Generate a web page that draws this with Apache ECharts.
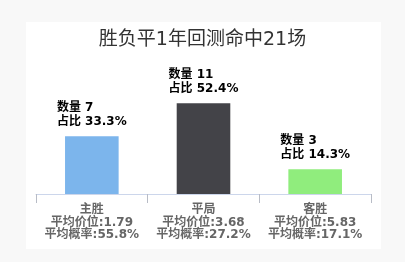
<!DOCTYPE html>
<html>
<head>
<meta charset="utf-8">
<script src="https://cdn.jsdelivr.net/npm/echarts@6/dist/echarts.min.js"></script>
<style>
  html, body { margin: 0; padding: 0; background: #f8f8f8; }
  #chart { width: 405px; height: 262px; }
</style>
</head>
<body>
<div id="chart"></div>
<script>
// 胜负平 outcome summary
const titleText = '胜负平1年回测命中21场';
const categories = ['主胜', '平局', '客胜'];
const counts = [7, 11, 3];
const shares = ['33.3%', '52.4%', '14.3%'];
const avgOdds = ['1.79', '3.68', '5.83'];
const avgProb = ['55.8%', '27.2%', '17.1%'];
const barColors = ['#7cb5ec', '#434348', '#90ed7d'];

// Latin glyphs from DejaVu Sans, CJK glyphs fall back to Noto Sans CJK
const FONT = '"DejaVu Sans", "Noto Sans CJK SC", sans-serif';

const chart = echarts.init(document.getElementById('chart'), null, { renderer: 'canvas' });

chart.setOption({
  backgroundColor: '#f8f8f8',
  animation: false,
  graphic: [{
    type: 'rect',
    z: -10,
    shape: { x: 26, y: 22, width: 355, height: 227 },
    style: { fill: '#ffffff' }
  }],
  title: {
    text: titleText,
    left: 'center',
    top: 26,
    textStyle: { fontFamily: FONT, fontSize: 19, fontWeight: 'normal', color: '#333333' }
  },
  grid: { left: 36, right: 34, top: 95, bottom: 68 },
  xAxis: {
    type: 'category',
    data: categories,
    axisLine: { lineStyle: { color: '#ccd6eb', width: 1 } },
    axisTick: { show: true, alignWithLabel: false, length: 9, lineStyle: { color: '#b8bcc6', width: 1 } },
    axisLabel: {
      margin: 10,
      interval: 0,
      color: '#666666',
      fontFamily: FONT,
      fontSize: 12,
      fontWeight: 'bold',
      lineHeight: 12.5,
      formatter: (v, i) => v + '\n平均价位:' + avgOdds[i] + '\n平均概率:' + avgProb[i]
    }
  },
  yAxis: {
    type: 'value',
    min: 0,
    max: 12,
    show: false,
    splitLine: { show: false }
  },
  series: [{
    type: 'bar',
    barWidth: '48%',
    data: counts.map((v, i) => ({ value: v, itemStyle: { color: barColors[i] } })),
    label: {
      show: true,
      position: 'top',
      distance: 7,
      formatter: p => '{a|数量 ' + p.value + '}\n{a|占比 ' + shares[p.dataIndex] + '}',
      rich: {
        a: {
          fontFamily: FONT,
          fontSize: 12,
          fontWeight: 'bold',
          color: '#000000',
          lineHeight: 14,
          align: 'left'
        }
      }
    }
  }]
});
</script>
</body>
</html>
